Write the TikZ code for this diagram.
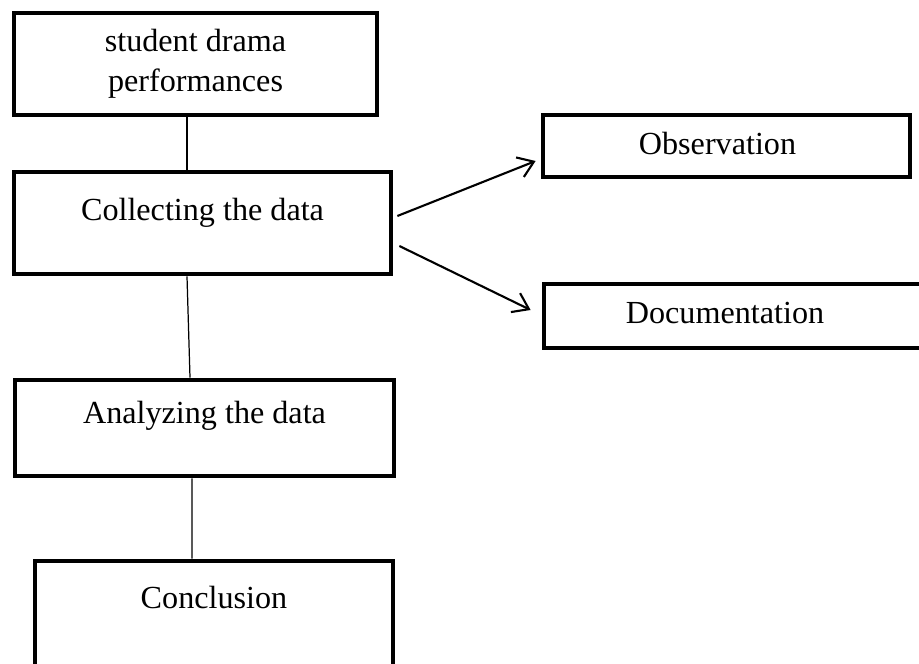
\documentclass[tikz,border=0pt]{standalone}
\usepackage{fontspec}
\setmainfont{Liberation Serif}
\usetikzlibrary{arrows.meta}
\begin{document}
\begin{tikzpicture}[line width=0.7pt,
  box/.style={draw, line width=2.7pt, inner sep=0pt, font=\fontsize{18.3}{23}\selectfont},
  flow/.style={line width=1.2pt, -{Straight Barb[length=3mm, width=4.2mm]}}]
  \path[use as bounding box, clip] (0,0) rectangle (18.38,-13.28);
  % 왼쪽 단계
  \node[box, minimum width=7.26cm, minimum height=2.04cm, align=center] (perf) at (3.91,-1.28) {student drama\\performances};
  \node[box, minimum width=7.54cm, text height=0.96cm, text depth=1.08cm] (collect) at (4.05,-4.46) {Collecting the data};
  \node[box, minimum width=7.58cm, text height=0.86cm, text depth=1.06cm] (analyze) at (4.09,-8.56) {Analyzing the data};
  \node[box, minimum width=7.16cm, text height=0.94cm, text depth=1.28cm] (concl) at (4.28,-12.33) {Conclusion};
  % 오른쪽 방법
  \node[box, minimum width=7.34cm, text height=0.8cm, text depth=0.44cm] (obs) at (14.53,-2.92) {Observation\hspace*{0.36cm}};
  \node[box, minimum width=7.8cm, text height=0.78cm, text depth=0.5cm] (doc) at (14.78,-6.32) {Documentation\hspace*{0.56cm}};
  % 연결선
  \draw ([xshift=-0.17cm]perf.south) -- ([xshift=-0.31cm]collect.north);
  \draw ([xshift=-0.31cm]collect.south) -- ([xshift=-0.29cm]analyze.north);
  \draw ([xshift=-0.25cm]analyze.south) -- ([xshift=-0.44cm]concl.north);
  \draw[flow] ([xshift=0.08cm, yshift=0.14cm]collect.east) -- ([xshift=-0.1cm, yshift=-0.3cm]obs.west);
  \draw[flow] ([xshift=0.12cm, yshift=-0.46cm]collect.east) -- ([xshift=-0.22cm, yshift=0.12cm]doc.west);
\end{tikzpicture}
\end{document}
